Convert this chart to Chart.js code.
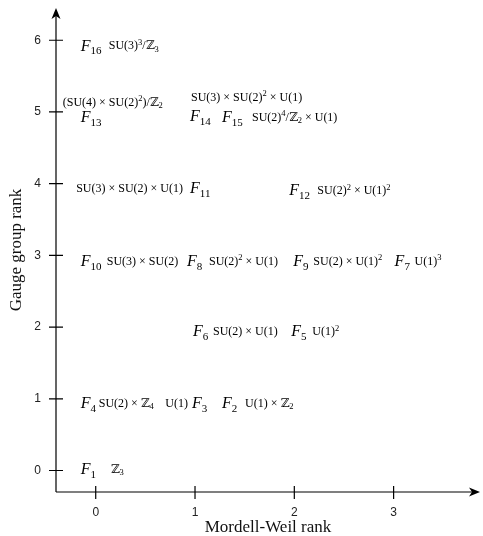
<!DOCTYPE html>
<html>
<head>
<meta charset="utf-8">
<script src="https://cdn.jsdelivr.net/npm/chart.js@4/dist/chart.umd.min.js"></script>
<style>
  html, body { margin: 0; padding: 0; background: #fff; }
  #wrap { width: 483px; height: 536px; position: relative; }
</style>
</head>
<body>
<div id="wrap"><canvas id="chart"></canvas></div>
<script>
// Fibres F1..F16 : Mordell-Weil rank vs gauge group rank
const fibreNames  = ['1', '2', '3', '4', '5', '6', '7', '8', '9', '10', '11', '12', '13', '14', '15', '16'];
const mwRank      = [0, 1, 1, 0, 2, 1, 3, 1, 2, 0, 1, 2, 0, 1, 1, 0];
const gaugeRank   = [0, 1, 1, 1, 2, 2, 3, 3, 3, 3, 4, 4, 5, 5, 5, 6];
const gaugeGroups = [
    'ℤ_3',
    'U(1) × ℤ_2',
    'U(1)',
    'SU(2) × ℤ_4',
    'U(1)^2',
    'SU(2) × U(1)',
    'U(1)^3',
    'SU(2)^2 × U(1)',
    'SU(2) × U(1)^2',
    'SU(3) × SU(2)',
    'SU(3) × SU(2) × U(1)',
    'SU(2)^2 × U(1)^2',
    '(SU(4) × SU(2)^2)/ℤ_2',
    'SU(3) × SU(2)^2 × U(1)',
    'SU(2)^4/ℤ_2 × U(1)',
    'SU(3)^3/ℤ_3'
];
const xTicks = [0, 1, 2, 3];
const yTicks = [0, 1, 2, 3, 4, 5, 6];

// placement of the texts around each point, in pixels: [fDx, fDy, groupDx, groupDy, groupAlign]
const labelLayout = [
    [-15, -1.5, 15, -1.5, 'left'],
    [27, 4, 50, 4, 'left'],
    [-3, 4, -7, 4, 'right'],
    [-15, 4, 3, 4, 'left'],
    [-3, 4, 18, 4, 'left'],
    [-2, 4, 18, 4, 'left'],
    [1, 5.5, 21, 5.5, 'left'],
    [-8, 5.5, 14, 5.5, 'left'],
    [-1, 5.5, 19, 5.5, 'left'],
    [-15, 5.5, 11, 5.5, 'left'],
    [-5, 4.5, -12, 4.5, 'right'],
    [-5, 6.5, 23, 6.5, 'left'],
    [-15, 5, -33, -10, 'left'],
    [-5, 4, -4, -15, 'left'],
    [27, 5, 57, 5, 'left'],
    [-15, 5, 13, 5, 'left']
];

const SERIF = "'Liberation Serif', 'DejaVu Serif', serif";
const SANS = "'Liberation Sans', Arial, sans-serif";

/**
 * Découpe "SU(2)^2 × ℤ_4" en morceaux normal / exposant / indice
 */
function parseRich(str) {
    const segs = [];
    let buf = '';
    for (let i = 0; i < str.length; i++) {
        const c = str[i];
        if (c === '^' || c === '_') {
            if (buf) { segs.push({ t: buf, lv: 0 }); buf = ''; }
            segs.push({ t: str[i + 1], lv: c === '^' ? 1 : -1 });
            i++;
        } else {
            buf += c;
        }
    }
    if (buf) segs.push({ t: buf, lv: 0 });
    return segs;
}

function segFont(seg, st) {
    const size = seg.lv === 0 ? st.size : st.small;
    const style = (seg.lv === 0 && st.italic) ? 'italic ' : '';
    return style + size + 'px ' + SERIF;
}

function drawRich(ctx, segs, x, y, st, align) {
    let width = 0;
    segs.forEach(s => { ctx.font = segFont(s, st); width += ctx.measureText(s.t).width; });
    let cx = align === 'right' ? x - width : x;
    ctx.textAlign = 'left';
    ctx.textBaseline = 'alphabetic';
    const base = y + st.size * 0.33;
    segs.forEach(s => {
        ctx.font = segFont(s, st);
        const dy = s.lv === 1 ? -st.sup : (s.lv === -1 ? st.sub : 0);
        ctx.fillText(s.t, cx, base + dy);
        cx += ctx.measureText(s.t).width;
    });
}

function arrowHead(ctx, x, y, angle) {
    ctx.save();
    ctx.translate(x, y);
    ctx.rotate(angle);
    ctx.beginPath();
    ctx.moveTo(0, 0);
    ctx.lineTo(-11, -4.5);
    ctx.lineTo(-8, 0);
    ctx.lineTo(-11, 4.5);
    ctx.closePath();
    ctx.fill();
    ctx.restore();
}

const arrowAxes = {
    id: 'arrowAxes',
    beforeDatasetsDraw(chart) {
        const { ctx, chartArea: a, scales: { x, y } } = chart;
        ctx.save();
        ctx.strokeStyle = '#000';
        ctx.fillStyle = '#000';
        ctx.lineWidth = 1.2;
        ctx.beginPath();
        ctx.moveTo(a.left, a.bottom);
        ctx.lineTo(a.right - 5, a.bottom);
        ctx.moveTo(a.left, a.bottom);
        ctx.lineTo(a.left, a.top + 5);
        xTicks.forEach(v => {
            const px = x.getPixelForValue(v);
            ctx.moveTo(px, a.bottom - 6);
            ctx.lineTo(px, a.bottom + 7);
        });
        yTicks.forEach(v => {
            const py = y.getPixelForValue(v);
            ctx.moveTo(a.left - 7, py);
            ctx.lineTo(a.left + 7, py);
        });
        ctx.stroke();
        arrowHead(ctx, a.right, a.bottom, 0);
        arrowHead(ctx, a.left, a.top, -Math.PI / 2);
        ctx.restore();
    }
};

const fibreLabels = {
    id: 'fibreLabels',
    afterDatasetsDraw(chart) {
        const ctx = chart.ctx;
        const pts = chart.getDatasetMeta(0).data;
        ctx.save();
        ctx.fillStyle = '#000';
        pts.forEach((p, i) => {
            const [fdx, fdy, gdx, gdy, galign] = labelLayout[i];
            drawRich(ctx, [{ t: 'F', lv: 0 }, { t: fibreNames[i], lv: -1 }],
                p.x + fdx, p.y + fdy, { size: 16, small: 11, italic: true, sup: 5, sub: 3.5 }, 'left');
            drawRich(ctx, parseRich(gaugeGroups[i]),
                p.x + gdx, p.y + gdy, { size: 12, small: 8.5, italic: false, sup: 4.5, sub: 2.5 }, galign);
        });
        ctx.restore();
    }
};

const whiteBg = {
    id: 'whiteBg',
    beforeDraw(chart) {
        const ctx = chart.ctx;
        ctx.save();
        ctx.fillStyle = '#fff';
        ctx.fillRect(0, 0, chart.width, chart.height);
        ctx.restore();
    }
};

new Chart(document.getElementById('chart'), {
    type: 'scatter',
    data: {
        datasets: [{
            data: mwRank.map((m, i) => ({ x: m, y: gaugeRank[i] })),
            pointRadius: 0,
            pointHoverRadius: 0,
            showLine: false
        }]
    },
    options: {
        responsive: true,
        maintainAspectRatio: false,
        animation: false,
        layout: { padding: { top: 8, right: 3, left: 0, bottom: 0 } },
        plugins: {
            legend: { display: false },
            tooltip: { enabled: false }
        },
        scales: {
            x: {
                type: 'linear',
                min: -0.4,
                max: 3.87,
                grid: { display: false, drawTicks: false },
                border: { display: false },
                afterBuildTicks: s => { s.ticks = xTicks.map(v => ({ value: v })); },
                afterFit: s => { s.height = 44; s.paddingLeft = 0; s.paddingRight = 0; },
                ticks: { padding: 13, color: '#222', maxRotation: 0, font: { family: SANS, size: 12 } },
                title: {
                    display: true,
                    text: 'Mordell-Weil rank',
                    color: '#111',
                    font: { family: SERIF, size: 17, lineHeight: 1 },
                    padding: { top: 0, bottom: 0 }
                }
            },
            y: {
                type: 'linear',
                min: -0.3,
                max: 6.45,
                grid: { display: false, drawTicks: false },
                border: { display: false },
                afterBuildTicks: s => { s.ticks = yTicks.map(v => ({ value: v })); },
                afterFit: s => { s.width = 56; s.paddingTop = 0; s.paddingBottom = 0; },
                ticks: { padding: 15, color: '#222', font: { family: SANS, size: 12 } },
                title: {
                    display: true,
                    text: 'Gauge group rank',
                    color: '#111',
                    font: { family: SERIF, size: 17, lineHeight: 1.2 },
                    padding: { top: 6, bottom: 0 }
                }
            }
        }
    },
    plugins: [whiteBg, arrowAxes, fibreLabels]
});
</script>
</body>
</html>
